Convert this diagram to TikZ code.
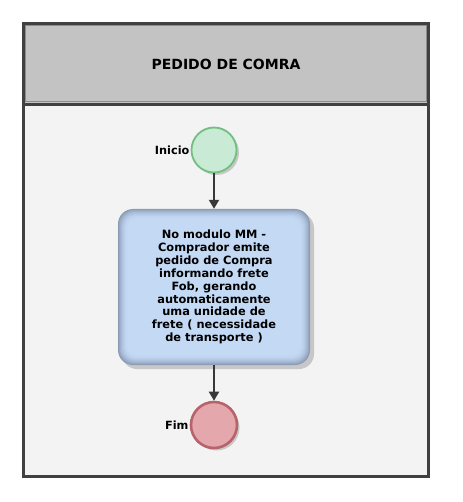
\documentclass[tikz,border=0pt]{standalone}
\usepackage{fontspec}
\setmainfont{DejaVu Sans}
\usetikzlibrary{arrows.meta,shadows}
\definecolor{frameC}{HTML}{404040}
\definecolor{headC}{HTML}{C3C3C3}
\definecolor{laneC}{HTML}{F3F3F3}
\definecolor{taskC}{HTML}{C3D9F4}
\definecolor{taskE}{HTML}{8A9BB5}
\definecolor{startF}{HTML}{C9EBD6}
\definecolor{startB}{HTML}{72BF80}
\definecolor{endF}{HTML}{E4A8AC}
\definecolor{endB}{HTML}{B8636C}
\definecolor{arrC}{HTML}{383838}
\tikzset{
  x=1pt,y=-1pt,
  evstart/.style={circle,draw=startB,line width=1.8pt,fill=startF,minimum size=45pt,inner sep=0pt,
    drop shadow={shadow xshift=2.5pt,shadow yshift=-2.5pt,fill=black!22,opacity=1}},
  evend/.style={circle,draw=endB,line width=2.6pt,fill=endF,minimum size=46pt,inner sep=0pt,
    drop shadow={shadow xshift=2.5pt,shadow yshift=-2.5pt,fill=black!22,opacity=1}},
  taskbox/.style={minimum width=192pt,minimum height=156pt,align=center,
    font=\bfseries\fontsize{11.4}{12.9}\selectfont},
  lbl/.style={font=\bfseries\fontsize{11.3}{12}\selectfont,inner sep=1pt},
  flow/.style={draw=arrC,line width=2pt,-{Triangle[length=9pt,width=10pt]}}
}
\begin{document}
\begin{tikzpicture}
\useasboundingbox (0,0) rectangle (462,502);
\fill[white] (0,0) rectangle (462,502);
% lane
\fill[laneC] (22,105) rectangle (430,477);
% header
\fill[headC] (22,22) rectangle (430,105);
\draw[black!45,line width=1.5pt] (25.5,25.5) rectangle (426.5,101.5);
\draw[frameC,line width=3pt] (23.5,23.5) rectangle (428.5,104.5);
\draw[frameC,line width=3pt] (23.5,104.5) -- (23.5,476);
\draw[frameC,line width=3pt] (428.5,104.5) -- (428.5,476);
\draw[frameC,line width=3pt] (22,476.5) -- (430,476.5);
\node[font=\bfseries\fontsize{14}{16}\selectfont] (title) at (226,64) {PEDIDO DE COMRA};
% task box visuals (beveled)
\fill[black!22,rounded corners=15pt] (122,213) rectangle (314,369);
\foreach \i in {0,...,10}{
  \pgfmathsetmacro{\mix}{100-100*(1-\i/10)^2}
  \pgfmathsetmacro{\rad}{15-0.6*\i}
  \fill[taskC!\mix!taskE,rounded corners=\rad pt] (118+\i,209+\i) rectangle (310-\i,365-\i);
}
% nodes
\node[evstart] (s) at (214,150) {};
\node[taskbox] (t) at (214,287) {No modulo MM -\\Comprador emite\\pedido de Compra\\informando frete\\Fob, gerando\\automaticamente\\uma unidade de\\frete ( necessidade\\de transporte )};
\node[evend] (e) at (214,425) {};
\node[lbl,anchor=east] (sl) at (s.west) {Inicio};
\node[lbl,anchor=east] (el) at (e.west) {Fim};
\draw[flow] (s) -- (t);
\draw[flow] (t) -- (e);
\end{tikzpicture}
\end{document}
